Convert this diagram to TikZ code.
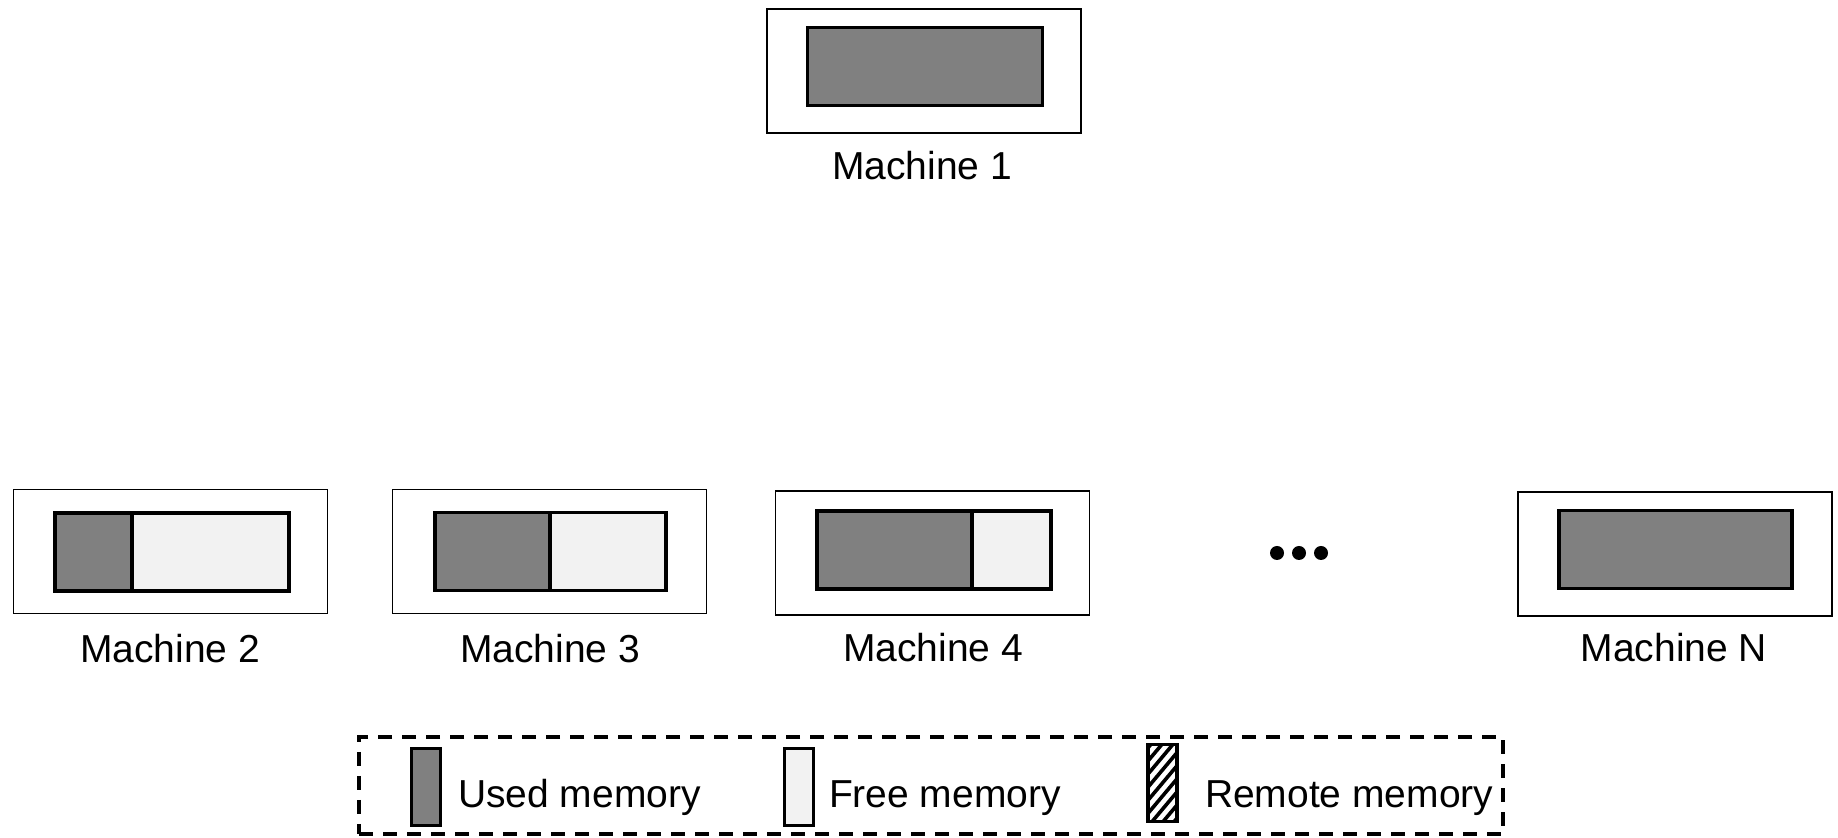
\documentclass[tikz,border=0pt]{standalone}
\usepackage{fontspec}
\setmainfont{Liberation Sans}
\definecolor{usedgray}{RGB}{128,128,128}
\definecolor{freegray}{RGB}{242,242,242}
\begin{document}
\begin{tikzpicture}[x=0.5pt,y=-0.5pt,
  every node/.style={inner sep=0pt,outer sep=0pt},
  machinebox/.style={draw=black,line width=0.75pt,fill=white,minimum width=157pt,minimum height=62pt},
  memused/.style={draw=black,line width=1.65pt,fill=usedgray,minimum height=39pt,anchor=west},
  memfree/.style={draw=black,line width=1.65pt,fill=freegray,minimum height=39pt,anchor=west},
  caption/.style={anchor=base,font=\fontsize{19.5pt}{23pt}\selectfont},
  legendtext/.style={anchor=base west,font=\fontsize{19.5pt}{23pt}\selectfont},
  legendframe/.style={draw=black,line width=1.9pt,dash pattern=on 7pt off 5pt,minimum width=572pt,minimum height=48.5pt},
  swatch/.style={draw=black,line width=1.6pt,minimum width=14.5pt,minimum height=38.5pt},
  hatchline/.style={line width=1.8pt,black},
  dot/.style={circle,fill=black,minimum size=7pt}
]
\useasboundingbox (0,0) rectangle (1838,838);

% Machine 1
\node[machinebox] (m1) at (924,71) {};
\node[memused,minimum width=117.5pt] (u1) at (807.5,66.5) {};
\node[caption] (c1) at (922,180) {Machine 1};

% Machine 2
\node[machinebox] (m2) at (170.5,551.5) {};
\node[memused,minimum width=38.5pt] (u2) at (55,552) {};
\node[memfree,minimum width=78.5pt] (f2) at (u2.east) {};
\node[caption] (c2) at (170,663) {Machine 2};

% Machine 3
\node[machinebox] (m3) at (549.5,551.5) {};
\node[memused,minimum width=57.5pt] (u3) at (435,551.5) {};
\node[memfree,minimum width=58pt] (f3) at (u3.east) {};
\node[caption] (c3) at (550,663) {Machine 3};

% Machine 4
\node[machinebox] (m4) at (932.5,553) {};
\node[memused,minimum width=77.5pt] (u4) at (817,550) {};
\node[memfree,minimum width=39.5pt] (f4) at (u4.east) {};
\node[caption] (c4) at (933,662) {Machine 4};

% ellipsis between Machine 4 and Machine N
\node[dot] (d1) at (1277,553) {};
\node[dot] (d2) at (1299,553) {};
\node[dot] (d3) at (1321,553) {};

% Machine N
\node[machinebox] (mN) at (1675,554) {};
\node[memused,minimum width=116.5pt] (uN) at (1559,549.5) {};
\node[caption] (cN) at (1674,662) {Machine N};

% Legend
\node[legendframe] (legend) at (931,785.5) {};
\node[swatch,fill=usedgray] (sw1) at (426,787) {};
\node[legendtext] (l1) at (458,808) {Used memory};
\node[swatch,fill=freegray] (sw2) at (799,787) {};
\node[legendtext] (l2) at (829,808) {Free memory};
\node[swatch,fill=white,
  path picture={
    \foreach \k in {-7,...,7}
      \draw[hatchline] ([xshift=\k*5.5pt-19.3pt,yshift=-23pt]path picture bounding box.center) -- ++(38.6pt,46pt);
  }] (sw3) at (1162.5,783) {};
\node[legendtext] (l3) at (1205,808) {Remote memory};
\end{tikzpicture}
\end{document}
